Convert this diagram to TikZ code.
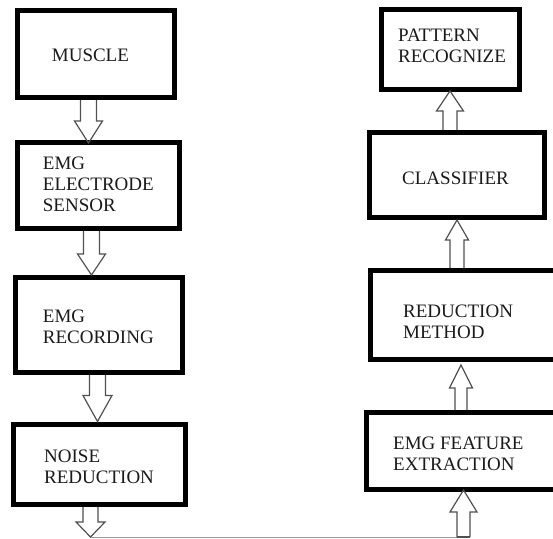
\documentclass[tikz,border=0pt]{standalone}
\usepackage{fontspec}
\setmainfont{Liberation Serif}
\usetikzlibrary{calc}
\definecolor{txt}{HTML}{1A1A1A}
\definecolor{arr}{HTML}{505050}
\tikzset{
  stagebox/.style={draw=black, line width=5pt, inner sep=0pt, outer sep=2.5pt, rectangle},
  lbl/.style={anchor=north west, inner sep=0pt, align=left, text=txt,
    font=\fontsize{19}{21}\selectfont},
  arrline/.style={draw=arr, line width=1.2pt, line join=miter},
  linkline/.style={draw=gray!80, line width=1pt}
}
% block arrows: #1 start, #2 end, #3 head length, #4 half shaft, #5 half head
\newcommand\downarr[5]{\draw[arrline] let \p1=(#1), \p2=(#2) in
  (\x1-#4,\y1) -- (\x1-#4,\y2+#3) -- (\x1-#5,\y2+#3) -- (\x1,\y2) --
  (\x1+#5,\y2+#3) -- (\x1+#4,\y2+#3) -- (\x1+#4,\y1);}
\newcommand\uparr[5]{\draw[arrline] let \p1=(#1), \p2=(#2) in
  (\x1-#4,\y1) -- (\x1-#4,\y2-#3) -- (\x1-#5,\y2-#3) -- (\x1,\y2) --
  (\x1+#5,\y2-#3) -- (\x1+#4,\y2-#3) -- (\x1+#4,\y1);}
\begin{document}
\begin{tikzpicture}[x=1pt, y=-1pt]
\useasboundingbox (0,0) rectangle (553,538);
\clip (0,0) rectangle (553,538);
% left column
\node[stagebox, minimum width=157pt, minimum height=87pt] (b1) at (96,54) {};
\node[stagebox, minimum width=162pt, minimum height=86pt] (b2) at (98.5,185.5) {};
\node[stagebox, minimum width=167.5pt, minimum height=95pt] (b3) at (98.75,325) {};
\node[stagebox, minimum width=172.5pt, minimum height=80.5pt] (b4) at (99.25,464.25) {};
% right column
\node[stagebox, minimum width=138pt, minimum height=80pt] (r1) at (450.5,49.5) {};
\node[stagebox, minimum width=175pt, minimum height=85pt] (r2) at (457,175) {};
\node[stagebox, minimum width=194.5pt, minimum height=89pt] (r3) at (467.75,315) {};
\node[stagebox, minimum width=198.5pt, minimum height=77pt] (r4) at (465.75,451) {};
% labels
\node[lbl] (t1) at (51.7,48.9) {MUSCLE};
\node[lbl] (t2) at (42.7,157.2) {EMG\\ELECTRODE\\SENSOR};
\node[lbl] (t3) at (42.7,310.2) {EMG\\RECORDING};
\node[lbl] (t4) at (44,450.2) {NOISE\\REDUCTION};
\node[lbl] (u1) at (398,29.2) {PATTERN\\RECOGNIZE};
\node[lbl] (u2) at (402,172.2) {CLASSIFIER};
\node[lbl] (u3) at (403,305.2) {REDUCTION\\METHOD};
\node[lbl] (u4) at (393,437.2) {EMG FEATURE\\EXTRACTION};
% free ends of the bottom link
\coordinate (a4tip) at (90.5,537);
\coordinate (rb) at (463.5,537);
% arrows
\downarr{[xshift=-7.5pt]b1.south}{[yshift=-3pt]b2.north}{22pt}{8pt}{14pt}
\downarr{[xshift=-7pt]b2.south}{b3.north}{21pt}{8pt}{14pt}
\downarr{[xshift=-1.25pt]b3.south}{b4.north}{26pt}{8pt}{14.5pt}
\downarr{[xshift=-8.75pt]b4.south}{a4tip}{15pt}{7.5pt}{14.5pt}
\uparr{[xshift=-7pt]r2.north}{[yshift=1pt]r1.south}{20pt}{7pt}{13.5pt}
\uparr{[xshift=-10.75pt]r3.north}{r2.south}{20pt}{7pt}{11.5pt}
\uparr{[xshift=-4.75pt]r4.north}{[yshift=-3pt]r3.south}{23pt}{6pt}{11.5pt}
\draw[linkline] (a4tip) -- (rb);
\uparr{rb}{[yshift=2pt]r4.south}{22pt}{6.5pt}{13.5pt}
\draw[arrline] ([xshift=-6.5pt]rb) -- ([xshift=6.5pt]rb);
\end{tikzpicture}
\end{document}
